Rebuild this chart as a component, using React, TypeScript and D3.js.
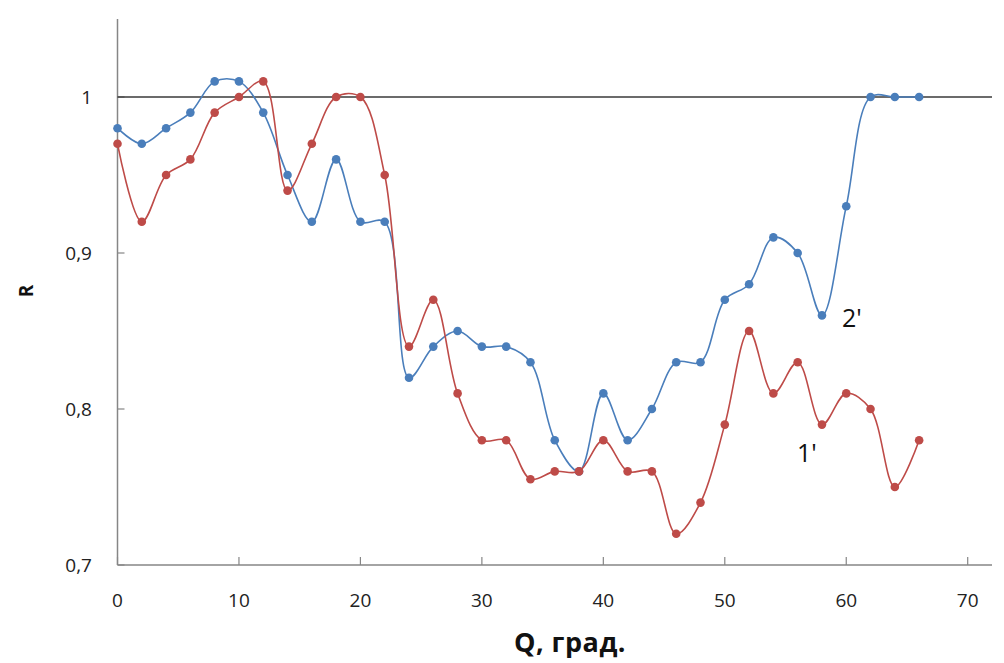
import React from 'react'
import * as d3 from 'd3'

// angle values, step 2 deg
const angles = d3.range(0, 68, 2)

// curve 2' (blue)
const r2 = [
  0.98, 0.97, 0.98, 0.99, 1.01, 1.01, 0.99, 0.95, 0.92, 0.96, 0.92, 0.92,
  0.82, 0.84, 0.85, 0.84, 0.84, 0.83, 0.78, 0.76, 0.81, 0.78, 0.8, 0.83,
  0.83, 0.87, 0.88, 0.91, 0.9, 0.86, 0.93, 1.0, 1.0, 1.0
]

// curve 1' (red)
const r1 = [
  0.97, 0.92, 0.95, 0.96, 0.99, 1.0, 1.01, 0.94, 0.97, 1.0, 1.0, 0.95,
  0.84, 0.87, 0.81, 0.78, 0.78, 0.755, 0.76, 0.76, 0.78, 0.76, 0.76, 0.72,
  0.74, 0.79, 0.85, 0.81, 0.83, 0.79, 0.81, 0.8, 0.75, 0.78
]

const xTicks = [0, 10, 20, 30, 40, 50, 60, 70]
const yTicks = [0.7, 0.8, 0.9, 1]

const W = 1004
const H = 663

export default function App() {
  const x = d3.scaleLinear().domain([0, 72]).range([117.5, 992])
  const y = d3.scaleLinear().domain([0.7, 1.05]).range([565, 19])

  const line = d3
    .line<[number, number]>()
    .x(d => x(d[0]))
    .y(d => y(d[1]))
    .curve(d3.curveCatmullRom.alpha(0.5))

  const series = [
    { name: '2\'', values: r2, color: '#4a7ebb' },
    { name: '1\'', values: r1, color: '#be4b48' }
  ]

  const fmt = (v: number) => String(v).replace('.', ',')
  const font = '"Open Sans", "DejaVu Sans", sans-serif'

  return (
    <svg
      width={W}
      height={H}
      style={{ position: 'absolute', left: 0, top: 0, background: '#fff' }}
    >
      {/* axes */}
      <line x1={x(0)} x2={x(0)} y1={y(1.05)} y2={y(0.7)} stroke="#868686" strokeWidth={1.5} />
      <line x1={x(0)} x2={x(72)} y1={y(0.7)} y2={y(0.7)} stroke="#868686" strokeWidth={1.5} />
      {yTicks.map(t => (
        <g key={t}>
          <line x1={x(0)} x2={x(0) + 7} y1={y(t)} y2={y(t)} stroke="#868686" strokeWidth={1.2} />
          <text
            x={92}
            y={y(t)}
            dy="0.35em"
            textAnchor="end"
            fontFamily={font}
            fontSize={19}
            fill="#222"
          >
            {fmt(t)}
          </text>
        </g>
      ))}
      {xTicks.map(t => (
        <g key={t}>
          <line x1={x(t)} x2={x(t)} y1={y(0.7)} y2={y(0.7) - 8} stroke="#868686" strokeWidth={1.2} />
          <text
            x={x(t)}
            y={607}
            textAnchor="middle"
            fontFamily={font}
            fontSize={19}
            fill="#222"
          >
            {t}
          </text>
        </g>
      ))}

      {/* reference line R = 1 */}
      <line x1={x(0)} x2={x(72)} y1={y(1)} y2={y(1)} stroke="#3a3a3a" strokeWidth={1.5} />

      {series.map(s => {
        const pts: [number, number][] = angles.map((a, i) => [a, s.values[i]])
        return (
          <g key={s.name}>
            <path d={line(pts) || ''} fill="none" stroke={s.color} strokeWidth={1.6} />
            {pts.map((p, i) => (
              <circle key={i} cx={x(p[0])} cy={y(p[1])} r={4.3} fill={s.color} />
            ))}
          </g>
        )
      })}

      {/* curve labels */}
      <text x={842} y={327} fontFamily={font} fontSize={25} fill="#111">2'</text>
      <text x={797} y={462} fontFamily={font} fontSize={25} fill="#111">1'</text>

      {/* axis titles */}
      <text
        x={570}
        y={652}
        textAnchor="middle"
        fontFamily={font}
        fontSize={27}
        fontWeight="bold"
        letterSpacing={0.5}
        fill="#111"
      >
        Q, град.
      </text>
      <text
        transform="translate(33,291) rotate(-90)"
        textAnchor="middle"
        fontFamily={font}
        fontSize={19}
        fontWeight="bold"
        fill="#111"
      >
        R
      </text>
    </svg>
  )
}
